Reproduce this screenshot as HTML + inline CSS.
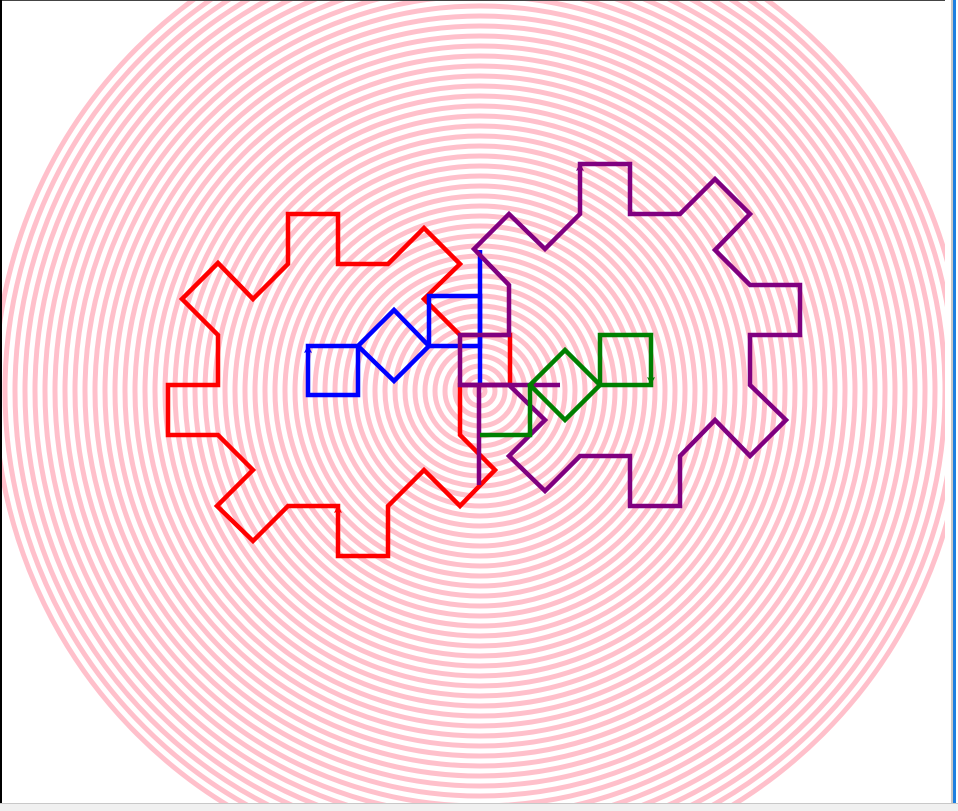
<!DOCTYPE html>
<html><head><meta charset="utf-8">
<style>
html,body{margin:0;padding:0;background:#fff;width:958px;height:811px;overflow:hidden;font-family:"Liberation Sans",sans-serif;}
#frame{position:absolute;left:0;top:0;width:958px;height:811px;overflow:hidden;}
svg{display:block;}
</style></head>
<body>
<div id="frame">
<svg id="svg" width="958" height="811" viewBox="0 0 958 811" xmlns="http://www.w3.org/2000/svg">
<rect x="0" y="0" width="958" height="811" fill="#ffffff"/>
<g id="rings"></g>
<g id="shapes"></g>
<rect x="0" y="0" width="958" height="1" fill="#444"/>
<rect x="0" y="0" width="2" height="803" fill="#000"/>
<rect x="945" y="0" width="13" height="811" fill="#ffffff"/>
<rect x="951" y="0" width="2" height="803" fill="#c8c8c8"/>
<rect x="953" y="0" width="3" height="811" fill="#1e7fe0"/>
<rect x="0" y="803" width="958" height="8" fill="#f0f0f0"/>
<rect x="0" y="803" width="958" height="1" fill="#c8c8c8"/>
</svg>
</div>
<script>
// Ring data
const ringCenter = [480, 391];
const ringRadii = [];
for (let r = 5; r <= 485; r += 10) ringRadii.push(r);

// Shape vertex data (turtle coordinates in screen px)
const redGear = [[338,506],[338,556],[388,556],[388,506],[424,470],[460,506],[495,470],[460,435],[460,385],[510,385],[510,335],[460,335],[424,299],[460,264],[424,228],[388,264],[338,264],[338,214],[288,214],[288,264],[253,299],[218,263],[182,299],[218,335],[218,385],[168,385],[168,435],[218,435],[253,470],[217,506],[253,541],[288,506]];
const purpleGear = [[580,214],[580,164],[630,164],[630,214],[680,214],[715,179],[750,214],[715,250],[750,285],[800,285],[800,335],[750,335],[750,385],[786,420],[750,456],[715,420],[680,456],[680,506],[630,506],[630,456],[580,456],[545,491],[509,456],[545,420],[509,385],[460,385],[460,335],[509,335],[509,285],[474,249],[509,214],[545,249]];
const purpleLines = [[[460,385],[560,385]],[[479,385],[479,485]]];
const blueShapes = [
  [[308,346],[358,346],[358,395],[308,395]],
  [[358,346],[394,310],[429,346],[394,381]],
  [[429,296],[480,296],[480,346],[429,346]]
];
const blueLines = [[[480,250],[480,385]]];
const greenShapes = [
  [[600,335],[651,335],[651,385],[600,385]],
  [[530,385],[565,350],[600,385],[565,420]]
];
const greenLines = [[[530,385],[530,435],[480,435]]];
const arrows = [
  {pos:[338,510], dir:-90, color:'red'},
  {pos:[580,168], dir:-90, color:'#800080'},
  {pos:[308,350], dir:-90, color:'blue'},
  {pos:[651,380], dir:90, color:'green'}
];

const NS = 'http://www.w3.org/2000/svg';
const rings = document.getElementById('rings');
for (const r of ringRadii) {
  const c = document.createElementNS(NS, 'circle');
  c.setAttribute('cx', ringCenter[0]);
  c.setAttribute('cy', ringCenter[1]);
  c.setAttribute('r', r);
  c.setAttribute('fill', 'none');
  c.setAttribute('stroke', '#ffc0cb');
  c.setAttribute('stroke-width', '5');
  
  
  rings.appendChild(c);
}
const shapes = document.getElementById('shapes');
function pts(a){return a.map(p=>p[0]+','+p[1]).join(' ');}
function draw(list, color, closed, name){
  for (const s of list){
    const el = document.createElementNS(NS, closed ? 'polygon' : 'polyline');
    el.setAttribute('points', pts(s));
    el.setAttribute('fill', 'none');
    el.setAttribute('stroke', color);
    el.setAttribute('stroke-width', '4.5');
    el.setAttribute('stroke-linejoin', 'miter');
    
    
    shapes.appendChild(el);
  }
}
draw([redGear], 'red', true, 'red-gear');
draw(blueShapes, 'blue', true, 'blue-shape');
draw(blueLines, 'blue', false, 'blue-line');
draw([purpleGear], '#800080', true, 'purple-gear');
draw(purpleLines, '#800080', false, 'purple-line');
draw(greenShapes, 'green', true, 'green-shape');
draw(greenLines, 'green', false, 'green-line');
for (const a of arrows){
  const g = document.createElementNS(NS, 'polygon');
  g.setAttribute('points', '0,0 -6,-3 -5,0 -6,3');
  g.setAttribute('transform', 'translate('+a.pos[0]+','+a.pos[1]+') rotate('+a.dir+') translate(4,0)');
  g.setAttribute('fill', a.color);
  g.setAttribute('stroke', a.color);
  g.setAttribute('stroke-width', '1');
  
  
  shapes.appendChild(g);
}
</script>
</body></html>
